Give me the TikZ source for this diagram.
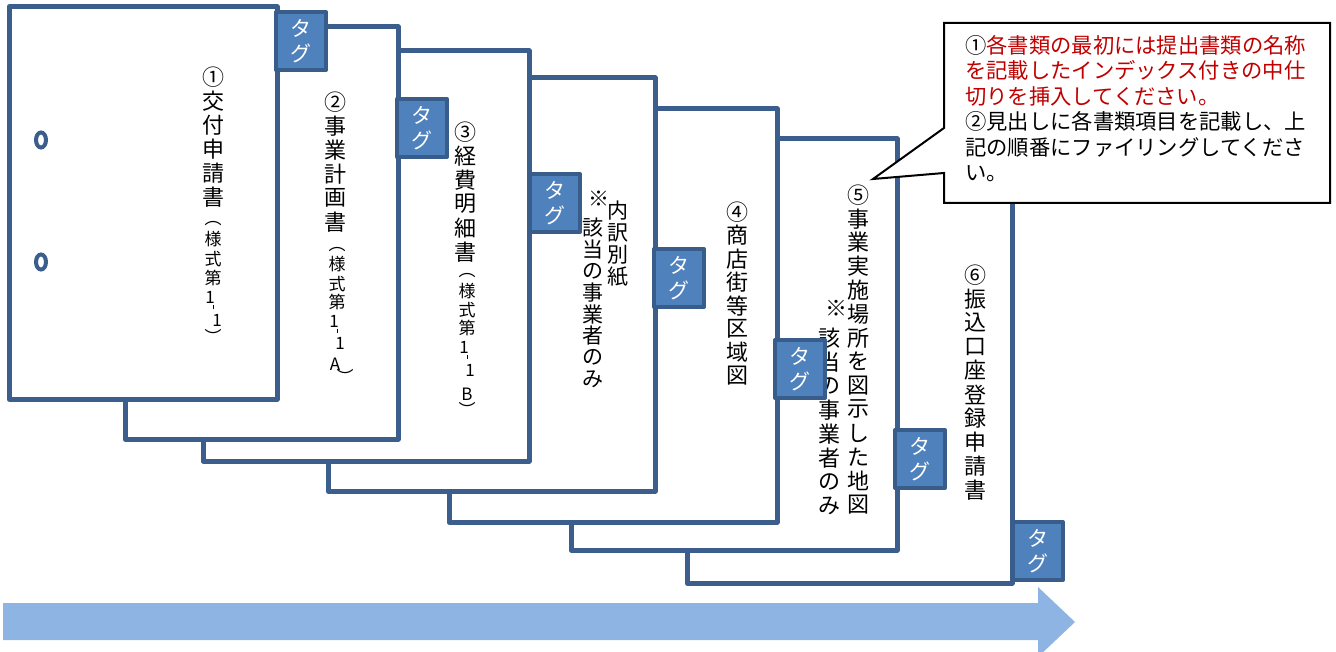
\documentclass[tikz,border=0pt]{standalone}
\usepackage{fontspec}
\setmainfont{Noto Sans CJK JP}
\definecolor{pageblue}{RGB}{59,94,140}
\definecolor{tagfill}{RGB}{79,129,189}
\definecolor{tagedge}{RGB}{56,93,138}
\definecolor{arrowblue}{RGB}{142,180,227}
\definecolor{notered}{RGB}{192,0,0}
\tikzset{
  page/.style={draw=pageblue, line width=5pt, fill=white, line join=round},
  tagbox/.style={draw=tagedge, line width=4pt, fill=tagfill, line join=round},
  tagtxt/.style={text=white, font=\fontsize{21}{21}\selectfont, inner sep=0pt},
  big/.style={font=\fontsize{22}{22}\selectfont, inner sep=0pt},
  mid/.style={font=\fontsize{21}{21}\selectfont, inner sep=0pt},
  small/.style={font=\fontsize{17}{17}\selectfont, inner sep=0pt},
  hole/.style={draw=pageblue, line width=4pt, fill=white},
  callout/.style={draw=black, line width=2pt, fill=white, line join=miter},
}
\newcommand\vcol[6]{% name, x, y0, pitch, style, list
  \foreach \c [count=\i from 0] in {#6} \node[#5] (#1-\i) at (#2,{#3+\i*#4}) {\c};}
\newcommand\vsub[3]{% name, x, list of char/dx/y
  \foreach \c/\dx/\yy [count=\i] in {#3} \node[small] (#1-\i) at ({#2+\dx},\yy) {\c};}
\newcommand\tagat[3]{% name, R, T
  \draw[tagbox] (#2,#3+2) rectangle (#2+50,#3+60);
  \node[tagtxt] (#1a) at (#2+25,#3+18) {タ};
  \node[tagtxt] (#1b) at (#2+25,#3+43) {グ};}
\newcommand\tick{\rule{0.9pt}{4.5pt}}
\begin{document}
\begin{tikzpicture}[x=1pt,y=-1pt]
\useasboundingbox (0,0) rectangle (1336,652);
% page 7
\draw[page] (687,170) rectangle (1012,583);
\vcol{t7}{975}{275}{23.9}{big}{⑥,振,込,口,座,登,録,申,請,書}
\tagat{g7}{1013}{520}
% page 6
\draw[page] (571,139) rectangle (897,550);
\vcol{t6}{858}{195}{23.8}{big}{⑤,事,業,実,施,場,所,を,図,示,し,た,地,図}
\node[big] (t6s) at (836,308) {※};
\vcol{t6b}{829}{338}{24}{big}{該,当,の,事,業,者,の,み}
\tagat{g6}{895}{428}
% page 5
\draw[page] (449,109) rectangle (777,522);
\vcol{t5}{737}{212}{23.4}{big}{④,商,店,街,等,区,域,図}
\tagat{g5}{775}{338}
% page 4
\draw[page] (328,78) rectangle (655,491);
\node[mid] (t4s) at (599,199) {※};
\vcol{t4}{618}{211}{22}{mid}{内,訳,別,紙}
\vcol{t4b}{593}{228}{21.6}{mid}{該,当,の,事,業,者,の,み}
\tagat{g4}{654}{247}
% page 3
\draw[page] (203,51) rectangle (529,461);
\vcol{t3}{465}{132}{24}{big}{③,経,費,明,細,書}
\vsub{t3s}{467}{︵/0/276, 様/0/291, 式/0/310, 第/0/328, 1/-3/347, \tick/0/357, 1/3/370, B/0/394, ︶/0/409}
\tagat{g3}{530}{172}
% page 2
\draw[page] (125,27) rectangle (398,439);
\vcol{t2}{335}{102}{24}{big}{②,事,業,計,画,書}
\vsub{t2s}{337}{︵/0/250, 様/0/264, 式/0/284, 第/0/302, 1/-3/321, \tick/0/331, 1/3/343, A/-2/364, ︶/8/376}
\tagat{g2}{397}{97}
% page 1
\draw[page] (9,7) rectangle (277,399);
\vcol{t1}{213}{77}{24}{big}{①,交,付,申,請,書}
\vsub{t1s}{213}{︵/0/224, 様/0/239, 式/0/259, 第/0/278, 1/-3/297, \tick/0/307, 1/4/320, ︶/0/336}
\tagat{g1}{276}{10}
\draw[hole] (41,140) ellipse [x radius=5, y radius=7.5];
\draw[hole] (41,262) ellipse [x radius=5, y radius=7.5];
% callout
\draw[callout] (944,23) -- (1330,23) -- (1330,203) -- (944,203) -- (944,173) -- (873,179) -- (944,128) -- cycle;
\node[anchor=north west, inner sep=0pt, align=left, font=\fontsize{21.3}{25.5}\selectfont] (note) at (965,35)
  {①\textcolor{notered}{各書類の最初には提出書類の名称}\\
   \textcolor{notered}{を記載したインデックス付きの中仕}\\
   \textcolor{notered}{切りを挿入してください。}\\
   ②見出しに各書類項目を記載し、上\\
   記の順番にファイリングしてくださ\\
   い。};
% arrow
\fill[arrowblue] (3,603) -- (1038,603) -- (1038,587) -- (1075,622) -- (1038,657) -- (1038,640) -- (3,640) -- cycle;
\end{tikzpicture}
\end{document}
